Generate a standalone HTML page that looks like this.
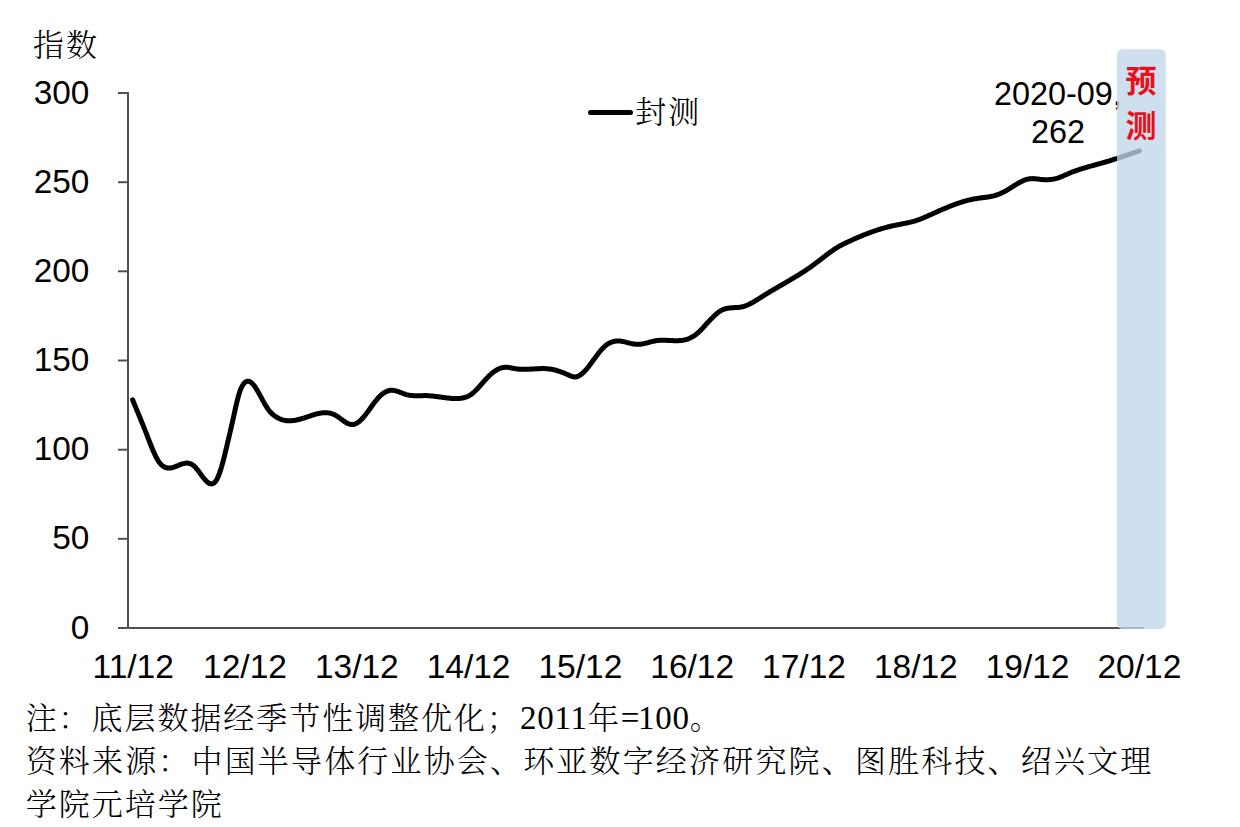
<!DOCTYPE html>
<html><head><meta charset="utf-8">
<style>
html,body{margin:0;padding:0;background:#fff;}
body{width:1240px;height:827px;overflow:hidden;position:relative;}
svg{position:absolute;left:0;top:0;}
.sans{font-family:"Liberation Sans","Noto Sans CJK SC",sans-serif;}
.cj{font-size:31px;letter-spacing:2.17px;}
.lat{font-size:33px;letter-spacing:0.8px;font-family:'Liberation Serif',serif;}
.song{font-family:"Liberation Serif","Noto Serif CJK SC",serif;font-weight:300;}
</style></head>
<body>
<svg width="1240" height="827" viewBox="0 0 1240 827">
<rect width="1240" height="827" fill="#fff"/>
<text class="song" x="33" y="55.5" font-size="31" letter-spacing="2.0" fill="#000">指数</text>
<g class="sans" font-size="33.4" fill="#000"><text x="89.4" y="103.6" text-anchor="end">300</text><text x="89.4" y="192.8" text-anchor="end">250</text><text x="89.4" y="281.9" text-anchor="end">200</text><text x="89.4" y="371.1" text-anchor="end">150</text><text x="89.4" y="460.3" text-anchor="end">100</text><text x="89.4" y="549.4" text-anchor="end">50</text><text x="89.4" y="638.6" text-anchor="end">0</text></g>
<g stroke="#505050" stroke-width="2"><line x1="118" y1="93.0" x2="128.0" y2="93.0"/><line x1="118" y1="182.2" x2="128.0" y2="182.2"/><line x1="118" y1="271.3" x2="128.0" y2="271.3"/><line x1="118" y1="360.5" x2="128.0" y2="360.5"/><line x1="118" y1="449.7" x2="128.0" y2="449.7"/><line x1="118" y1="538.8" x2="128.0" y2="538.8"/><line x1="118" y1="628.0" x2="128.0" y2="628.0"/>
<line x1="128.0" y1="92.0" x2="128.0" y2="629.0"/>
<line x1="118" y1="628.0" x2="1144.0" y2="628.0"/>
</g>
<g class="sans" font-size="33.5" fill="#000"><text x="133.2" y="678" text-anchor="middle">11/12</text><text x="245.0" y="678" text-anchor="middle">12/12</text><text x="356.8" y="678" text-anchor="middle">13/12</text><text x="468.6" y="678" text-anchor="middle">14/12</text><text x="580.4" y="678" text-anchor="middle">15/12</text><text x="692.2" y="678" text-anchor="middle">16/12</text><text x="804.0" y="678" text-anchor="middle">17/12</text><text x="915.8" y="678" text-anchor="middle">18/12</text><text x="1027.6" y="678" text-anchor="middle">19/12</text><text x="1139.4" y="678" text-anchor="middle">20/12</text></g>
<line x1="590.5" y1="112.6" x2="630.5" y2="112.6" stroke="#000" stroke-width="5" stroke-linecap="round"/>
<text class="song" x="635.3" y="122.8" font-size="31" letter-spacing="2.0" fill="#000">封测</text>
<path d="M132.6,399.8 L133.6,402.2 L134.6,404.7 L135.6,407.1 L136.6,409.5 L137.6,411.9 L138.6,414.4 L139.6,416.8 L140.6,419.2 L141.6,421.7 L142.6,424.1 L143.6,426.6 L144.6,429.1 L145.6,431.6 L146.6,434.2 L147.6,436.8 L148.6,439.4 L149.6,442.0 L150.6,444.5 L151.6,447.0 L152.6,449.5 L153.6,451.8 L154.6,454.0 L155.6,456.1 L156.6,458.0 L157.6,459.8 L158.6,461.4 L159.6,462.8 L160.6,464.0 L161.6,465.0 L162.6,465.9 L163.6,466.6 L164.6,467.1 L165.6,467.5 L166.6,467.8 L167.6,468.0 L168.6,468.1 L169.6,468.1 L170.6,468.0 L171.6,467.8 L172.6,467.6 L173.6,467.3 L174.6,466.9 L175.6,466.5 L176.6,466.2 L177.6,465.7 L178.6,465.3 L179.6,464.9 L180.6,464.5 L181.6,464.2 L182.6,463.8 L183.6,463.6 L184.6,463.4 L185.6,463.2 L186.6,463.1 L187.6,463.1 L188.6,463.3 L189.6,463.5 L190.6,463.8 L191.6,464.3 L192.6,464.9 L193.6,465.7 L194.6,466.6 L195.6,467.6 L196.6,468.8 L197.6,470.0 L198.6,471.3 L199.6,472.6 L200.6,474.0 L201.6,475.4 L202.6,476.7 L203.6,478.0 L204.6,479.2 L205.6,480.3 L206.6,481.4 L207.6,482.2 L208.6,483.0 L209.6,483.5 L210.6,483.8 L211.6,483.9 L212.6,483.7 L213.6,483.3 L214.6,482.5 L215.6,481.3 L216.6,479.8 L217.6,477.9 L218.6,475.6 L219.6,472.9 L220.6,469.9 L221.6,466.6 L222.6,463.0 L223.6,459.3 L224.6,455.3 L225.6,451.2 L226.6,447.1 L227.6,442.8 L228.6,438.6 L229.6,434.3 L230.6,430.0 L231.6,425.6 L232.6,421.2 L233.6,416.7 L234.6,412.1 L235.6,407.6 L236.6,403.3 L237.6,399.2 L238.6,395.5 L239.6,392.2 L240.6,389.4 L241.6,387.2 L242.6,385.3 L243.6,383.8 L244.6,382.7 L245.6,381.9 L246.6,381.4 L247.6,381.2 L248.6,381.2 L249.6,381.6 L250.6,382.1 L251.6,382.9 L252.6,383.8 L253.6,385.0 L254.6,386.3 L255.6,387.7 L256.6,389.3 L257.6,391.0 L258.6,392.7 L259.6,394.5 L260.6,396.4 L261.6,398.2 L262.6,400.1 L263.6,401.9 L264.6,403.7 L265.6,405.4 L266.6,407.0 L267.6,408.5 L268.6,409.9 L269.6,411.2 L270.6,412.3 L271.6,413.4 L272.6,414.3 L273.6,415.1 L274.6,415.9 L275.6,416.6 L276.6,417.2 L277.6,417.8 L278.6,418.3 L279.6,418.8 L280.6,419.2 L281.6,419.6 L282.6,419.9 L283.6,420.2 L284.6,420.4 L285.6,420.5 L286.6,420.7 L287.6,420.8 L288.6,420.8 L289.6,420.8 L290.6,420.8 L291.6,420.7 L292.6,420.6 L293.6,420.5 L294.6,420.4 L295.6,420.2 L296.6,420.0 L297.6,419.8 L298.6,419.5 L299.6,419.3 L300.6,419.0 L301.6,418.7 L302.6,418.4 L303.6,418.1 L304.6,417.8 L305.6,417.5 L306.6,417.1 L307.6,416.8 L308.6,416.4 L309.6,416.1 L310.6,415.8 L311.6,415.4 L312.6,415.1 L313.6,414.8 L314.6,414.5 L315.6,414.2 L316.6,413.9 L317.6,413.7 L318.6,413.5 L319.6,413.3 L320.6,413.1 L321.6,412.9 L322.6,412.8 L323.6,412.7 L324.6,412.7 L325.6,412.7 L326.6,412.7 L327.6,412.8 L328.6,412.9 L329.6,413.1 L330.6,413.3 L331.6,413.6 L332.6,414.0 L333.6,414.4 L334.6,414.8 L335.6,415.3 L336.6,415.9 L337.6,416.6 L338.6,417.3 L339.6,418.0 L340.6,418.7 L341.6,419.5 L342.6,420.2 L343.6,420.9 L344.6,421.6 L345.6,422.3 L346.6,422.9 L347.6,423.4 L348.6,423.8 L349.6,424.2 L350.6,424.4 L351.6,424.6 L352.6,424.6 L353.6,424.5 L354.6,424.2 L355.6,423.8 L356.6,423.3 L357.6,422.7 L358.6,422.0 L359.6,421.2 L360.6,420.3 L361.6,419.3 L362.6,418.2 L363.6,417.1 L364.6,415.9 L365.6,414.6 L366.6,413.3 L367.6,412.0 L368.6,410.6 L369.6,409.2 L370.6,407.8 L371.6,406.4 L372.6,405.0 L373.6,403.6 L374.6,402.3 L375.6,401.0 L376.6,399.8 L377.6,398.6 L378.6,397.5 L379.6,396.5 L380.6,395.5 L381.6,394.6 L382.6,393.8 L383.6,393.1 L384.6,392.4 L385.6,391.9 L386.6,391.4 L387.6,391.0 L388.6,390.7 L389.6,390.5 L390.6,390.3 L391.6,390.3 L392.6,390.3 L393.6,390.4 L394.6,390.6 L395.6,390.8 L396.6,391.1 L397.6,391.4 L398.6,391.8 L399.6,392.2 L400.6,392.5 L401.6,392.9 L402.6,393.3 L403.6,393.7 L404.6,394.0 L405.6,394.4 L406.6,394.7 L407.6,394.9 L408.6,395.1 L409.6,395.3 L410.6,395.4 L411.6,395.5 L412.6,395.6 L413.6,395.7 L414.6,395.7 L415.6,395.8 L416.6,395.8 L417.6,395.8 L418.6,395.7 L419.6,395.7 L420.6,395.7 L421.6,395.7 L422.6,395.7 L423.6,395.6 L424.6,395.6 L425.6,395.6 L426.6,395.6 L427.6,395.7 L428.6,395.7 L429.6,395.8 L430.6,395.9 L431.6,396.0 L432.6,396.1 L433.6,396.2 L434.6,396.3 L435.6,396.4 L436.6,396.5 L437.6,396.7 L438.6,396.8 L439.6,397.0 L440.6,397.1 L441.6,397.2 L442.6,397.4 L443.6,397.5 L444.6,397.6 L445.6,397.8 L446.6,397.9 L447.6,398.0 L448.6,398.1 L449.6,398.2 L450.6,398.3 L451.6,398.4 L452.6,398.4 L453.6,398.5 L454.6,398.5 L455.6,398.5 L456.6,398.5 L457.6,398.5 L458.6,398.4 L459.6,398.4 L460.6,398.3 L461.6,398.1 L462.6,398.0 L463.6,397.8 L464.6,397.5 L465.6,397.2 L466.6,396.9 L467.6,396.5 L468.6,396.0 L469.6,395.4 L470.6,394.8 L471.6,394.1 L472.6,393.4 L473.6,392.5 L474.6,391.6 L475.6,390.6 L476.6,389.6 L477.6,388.6 L478.6,387.5 L479.6,386.3 L480.6,385.2 L481.6,384.0 L482.6,382.9 L483.6,381.7 L484.6,380.6 L485.6,379.5 L486.6,378.4 L487.6,377.4 L488.6,376.3 L489.6,375.4 L490.6,374.5 L491.6,373.6 L492.6,372.8 L493.6,372.0 L494.6,371.3 L495.6,370.6 L496.6,370.0 L497.6,369.4 L498.6,369.0 L499.6,368.5 L500.6,368.1 L501.6,367.8 L502.6,367.6 L503.6,367.4 L504.6,367.3 L505.6,367.2 L506.6,367.2 L507.6,367.3 L508.6,367.4 L509.6,367.6 L510.6,367.8 L511.6,368.0 L512.6,368.2 L513.6,368.4 L514.6,368.6 L515.6,368.7 L516.6,368.9 L517.6,369.0 L518.6,369.1 L519.6,369.2 L520.6,369.3 L521.6,369.3 L522.6,369.3 L523.6,369.3 L524.6,369.3 L525.6,369.3 L526.6,369.3 L527.6,369.3 L528.6,369.2 L529.6,369.2 L530.6,369.1 L531.6,369.1 L532.6,369.0 L533.6,369.0 L534.6,368.9 L535.6,368.8 L536.6,368.8 L537.6,368.7 L538.6,368.7 L539.6,368.7 L540.6,368.6 L541.6,368.6 L542.6,368.6 L543.6,368.6 L544.6,368.6 L545.6,368.7 L546.6,368.7 L547.6,368.8 L548.6,368.9 L549.6,369.0 L550.6,369.1 L551.6,369.3 L552.6,369.5 L553.6,369.7 L554.6,369.9 L555.6,370.2 L556.6,370.5 L557.6,370.8 L558.6,371.1 L559.6,371.4 L560.6,371.8 L561.6,372.1 L562.6,372.5 L563.6,372.9 L564.6,373.3 L565.6,373.8 L566.6,374.2 L567.6,374.6 L568.6,375.1 L569.6,375.5 L570.6,375.9 L571.6,376.3 L572.6,376.6 L573.6,376.8 L574.6,377.0 L575.6,376.9 L576.6,376.8 L577.6,376.5 L578.6,376.0 L579.6,375.5 L580.6,374.8 L581.6,374.1 L582.6,373.2 L583.6,372.3 L584.6,371.3 L585.6,370.2 L586.6,369.0 L587.6,367.8 L588.6,366.6 L589.6,365.3 L590.6,363.9 L591.6,362.6 L592.6,361.2 L593.6,359.8 L594.6,358.5 L595.6,357.1 L596.6,355.7 L597.6,354.4 L598.6,353.1 L599.6,351.9 L600.6,350.7 L601.6,349.5 L602.6,348.4 L603.6,347.4 L604.6,346.5 L605.6,345.6 L606.6,344.8 L607.6,344.1 L608.6,343.5 L609.6,343.0 L610.6,342.5 L611.6,342.1 L612.6,341.8 L613.6,341.5 L614.6,341.3 L615.6,341.1 L616.6,341.0 L617.6,341.0 L618.6,341.0 L619.6,341.0 L620.6,341.1 L621.6,341.3 L622.6,341.4 L623.6,341.6 L624.6,341.9 L625.6,342.1 L626.6,342.4 L627.6,342.6 L628.6,342.9 L629.6,343.1 L630.6,343.4 L631.6,343.6 L632.6,343.8 L633.6,344.0 L634.6,344.1 L635.6,344.3 L636.6,344.3 L637.6,344.3 L638.6,344.3 L639.6,344.3 L640.6,344.2 L641.6,344.0 L642.6,343.9 L643.6,343.7 L644.6,343.4 L645.6,343.2 L646.6,343.0 L647.6,342.7 L648.6,342.5 L649.6,342.2 L650.6,341.9 L651.6,341.7 L652.6,341.4 L653.6,341.2 L654.6,341.0 L655.6,340.8 L656.6,340.6 L657.6,340.5 L658.6,340.4 L659.6,340.3 L660.6,340.3 L661.6,340.2 L662.6,340.2 L663.6,340.2 L664.6,340.2 L665.6,340.3 L666.6,340.3 L667.6,340.4 L668.6,340.4 L669.6,340.5 L670.6,340.5 L671.6,340.6 L672.6,340.6 L673.6,340.7 L674.6,340.7 L675.6,340.7 L676.6,340.7 L677.6,340.7 L678.6,340.7 L679.6,340.6 L680.6,340.5 L681.6,340.4 L682.6,340.3 L683.6,340.1 L684.6,339.9 L685.6,339.7 L686.6,339.4 L687.6,339.1 L688.6,338.7 L689.6,338.3 L690.6,337.8 L691.6,337.3 L692.6,336.8 L693.6,336.2 L694.6,335.5 L695.6,334.8 L696.6,334.0 L697.6,333.1 L698.6,332.2 L699.6,331.3 L700.6,330.3 L701.6,329.2 L702.6,328.2 L703.6,327.1 L704.6,326.0 L705.6,324.9 L706.6,323.8 L707.6,322.7 L708.6,321.6 L709.6,320.5 L710.6,319.4 L711.6,318.4 L712.6,317.4 L713.6,316.4 L714.6,315.5 L715.6,314.6 L716.6,313.7 L717.6,312.9 L718.6,312.1 L719.6,311.5 L720.6,310.8 L721.6,310.3 L722.6,309.8 L723.6,309.4 L724.6,309.0 L725.6,308.7 L726.6,308.5 L727.6,308.3 L728.6,308.1 L729.6,308.0 L730.6,307.9 L731.6,307.8 L732.6,307.7 L733.6,307.7 L734.6,307.6 L735.6,307.6 L736.6,307.5 L737.6,307.5 L738.6,307.4 L739.6,307.3 L740.6,307.1 L741.6,307.0 L742.6,306.7 L743.6,306.5 L744.6,306.2 L745.6,305.8 L746.6,305.4 L747.6,305.0 L748.6,304.6 L749.6,304.1 L750.6,303.6 L751.6,303.0 L752.6,302.5 L753.6,301.9 L754.6,301.3 L755.6,300.7 L756.6,300.1 L757.6,299.5 L758.6,298.8 L759.6,298.2 L760.6,297.6 L761.6,296.9 L762.6,296.3 L763.6,295.7 L764.6,295.0 L765.6,294.4 L766.6,293.8 L767.6,293.2 L768.6,292.6 L769.6,292.0 L770.6,291.4 L771.6,290.8 L772.6,290.2 L773.6,289.6 L774.6,289.0 L775.6,288.4 L776.6,287.9 L777.6,287.3 L778.6,286.7 L779.6,286.1 L780.6,285.5 L781.6,285.0 L782.6,284.4 L783.6,283.8 L784.6,283.2 L785.6,282.7 L786.6,282.1 L787.6,281.5 L788.6,280.9 L789.6,280.3 L790.6,279.7 L791.6,279.1 L792.6,278.5 L793.6,277.9 L794.6,277.3 L795.6,276.7 L796.6,276.1 L797.6,275.5 L798.6,274.9 L799.6,274.3 L800.6,273.6 L801.6,273.0 L802.6,272.4 L803.6,271.7 L804.6,271.1 L805.6,270.4 L806.6,269.7 L807.6,269.0 L808.6,268.4 L809.6,267.7 L810.6,267.0 L811.6,266.2 L812.6,265.5 L813.6,264.8 L814.6,264.1 L815.6,263.3 L816.6,262.5 L817.6,261.8 L818.6,261.0 L819.6,260.2 L820.6,259.5 L821.6,258.7 L822.6,257.9 L823.6,257.2 L824.6,256.4 L825.6,255.6 L826.6,254.9 L827.6,254.1 L828.6,253.4 L829.6,252.6 L830.6,251.9 L831.6,251.2 L832.6,250.5 L833.6,249.8 L834.6,249.1 L835.6,248.5 L836.6,247.9 L837.6,247.2 L838.6,246.6 L839.6,246.1 L840.6,245.5 L841.6,245.0 L842.6,244.5 L843.6,244.0 L844.6,243.5 L845.6,243.0 L846.6,242.5 L847.6,242.0 L848.6,241.6 L849.6,241.1 L850.6,240.7 L851.6,240.2 L852.6,239.7 L853.6,239.3 L854.6,238.8 L855.6,238.4 L856.6,238.0 L857.6,237.5 L858.6,237.1 L859.6,236.7 L860.6,236.3 L861.6,235.9 L862.6,235.4 L863.6,235.0 L864.6,234.6 L865.6,234.3 L866.6,233.9 L867.6,233.5 L868.6,233.1 L869.6,232.7 L870.6,232.4 L871.6,232.0 L872.6,231.6 L873.6,231.3 L874.6,230.9 L875.6,230.6 L876.6,230.3 L877.6,229.9 L878.6,229.6 L879.6,229.3 L880.6,229.0 L881.6,228.7 L882.6,228.4 L883.6,228.1 L884.6,227.8 L885.6,227.6 L886.6,227.3 L887.6,227.0 L888.6,226.8 L889.6,226.5 L890.6,226.3 L891.6,226.0 L892.6,225.8 L893.6,225.6 L894.6,225.4 L895.6,225.2 L896.6,225.0 L897.6,224.8 L898.6,224.6 L899.6,224.4 L900.6,224.2 L901.6,224.0 L902.6,223.8 L903.6,223.6 L904.6,223.4 L905.6,223.2 L906.6,223.0 L907.6,222.8 L908.6,222.6 L909.6,222.4 L910.6,222.1 L911.6,221.9 L912.6,221.6 L913.6,221.3 L914.6,221.1 L915.6,220.8 L916.6,220.4 L917.6,220.1 L918.6,219.7 L919.6,219.4 L920.6,219.0 L921.6,218.6 L922.6,218.2 L923.6,217.8 L924.6,217.3 L925.6,216.9 L926.6,216.5 L927.6,216.0 L928.6,215.6 L929.6,215.1 L930.6,214.7 L931.6,214.2 L932.6,213.8 L933.6,213.3 L934.6,212.9 L935.6,212.4 L936.6,212.0 L937.6,211.5 L938.6,211.1 L939.6,210.6 L940.6,210.2 L941.6,209.8 L942.6,209.3 L943.6,208.9 L944.6,208.5 L945.6,208.1 L946.6,207.7 L947.6,207.2 L948.6,206.8 L949.6,206.4 L950.6,206.0 L951.6,205.7 L952.6,205.3 L953.6,204.9 L954.6,204.5 L955.6,204.2 L956.6,203.8 L957.6,203.4 L958.6,203.1 L959.6,202.8 L960.6,202.4 L961.6,202.1 L962.6,201.8 L963.6,201.5 L964.6,201.2 L965.6,200.9 L966.6,200.7 L967.6,200.4 L968.6,200.1 L969.6,199.9 L970.6,199.7 L971.6,199.4 L972.6,199.2 L973.6,199.0 L974.6,198.8 L975.6,198.7 L976.6,198.5 L977.6,198.4 L978.6,198.2 L979.6,198.1 L980.6,198.0 L981.6,197.8 L982.6,197.7 L983.6,197.6 L984.6,197.5 L985.6,197.3 L986.6,197.2 L987.6,197.0 L988.6,196.9 L989.6,196.7 L990.6,196.5 L991.6,196.3 L992.6,196.1 L993.6,195.9 L994.6,195.6 L995.6,195.3 L996.6,195.0 L997.6,194.7 L998.6,194.3 L999.6,193.9 L1000.6,193.5 L1001.6,193.0 L1002.6,192.5 L1003.6,192.0 L1004.6,191.5 L1005.6,191.0 L1006.6,190.4 L1007.6,189.8 L1008.6,189.2 L1009.6,188.6 L1010.6,188.0 L1011.6,187.3 L1012.6,186.7 L1013.6,186.1 L1014.6,185.4 L1015.6,184.8 L1016.6,184.2 L1017.6,183.6 L1018.6,183.0 L1019.6,182.4 L1020.6,181.9 L1021.6,181.4 L1022.6,180.9 L1023.6,180.5 L1024.6,180.1 L1025.6,179.7 L1026.6,179.4 L1027.6,179.2 L1028.6,179.0 L1029.6,178.8 L1030.6,178.7 L1031.6,178.7 L1032.6,178.6 L1033.6,178.7 L1034.6,178.7 L1035.6,178.8 L1036.6,178.9 L1037.6,179.0 L1038.6,179.1 L1039.6,179.3 L1040.6,179.4 L1041.6,179.5 L1042.6,179.6 L1043.6,179.7 L1044.6,179.7 L1045.6,179.7 L1046.6,179.7 L1047.6,179.7 L1048.6,179.7 L1049.6,179.6 L1050.6,179.5 L1051.6,179.4 L1052.6,179.2 L1053.6,179.1 L1054.6,178.9 L1055.6,178.6 L1056.6,178.4 L1057.6,178.1 L1058.6,177.8 L1059.6,177.4 L1060.6,177.0 L1061.6,176.6 L1062.6,176.2 L1063.6,175.7 L1064.6,175.3 L1065.6,174.9 L1066.6,174.4 L1067.6,174.0 L1068.6,173.5 L1069.6,173.1 L1070.6,172.7 L1071.6,172.3 L1072.6,171.9 L1073.6,171.5 L1074.6,171.2 L1075.6,170.8 L1076.6,170.5 L1077.6,170.1 L1078.6,169.8 L1079.6,169.4 L1080.6,169.1 L1081.6,168.8 L1082.6,168.5 L1083.6,168.2 L1084.6,167.9 L1085.6,167.6 L1086.6,167.3 L1087.6,167.0 L1088.6,166.7 L1089.6,166.4 L1090.6,166.1 L1091.6,165.9 L1092.6,165.6 L1093.6,165.3 L1094.6,165.0 L1095.6,164.8 L1096.6,164.5 L1097.6,164.2 L1098.6,163.9 L1099.6,163.7 L1100.6,163.4 L1101.6,163.1 L1102.6,162.8 L1103.6,162.5 L1104.6,162.3 L1105.6,162.0 L1106.6,161.7 L1107.6,161.4 L1108.6,161.1 L1109.6,160.8 L1110.6,160.5 L1111.6,160.2 L1112.6,159.8 L1113.6,159.5 L1114.6,159.2 L1115.6,158.9 L1116.6,158.6 L1117.6,158.3 L1118.6,157.9 L1119.6,157.6 L1120.6,157.3 L1121.6,156.9 L1122.6,156.6 L1123.6,156.3 L1124.6,155.9 L1125.6,155.6 L1126.6,155.3 L1127.6,154.9 L1128.6,154.6 L1129.6,154.2 L1130.6,153.9 L1131.6,153.5 L1132.6,153.2 L1133.6,152.9 L1134.6,152.5 L1135.6,152.2 L1136.6,151.8 L1137.6,151.5 L1138.6,151.1 L1139.4,150.9" fill="none" stroke="#000" stroke-width="5" stroke-linecap="round" stroke-linejoin="round"/>
<g class="sans" font-size="32.4" fill="#000">
<text x="994" y="104.6">2020-09,</text>
<text x="1031" y="143.4">262</text>
</g>
<rect x="1117" y="49.3" width="48.7" height="579.8" rx="5.5" fill="#C0D6EC" fill-opacity="0.78"/>
<g class="sans" font-size="31" font-weight="700" fill="#E8101A" text-anchor="middle">
<text x="1141" y="92">预</text>
<text x="1141" y="136.5">测</text>
</g>
<g class="song cj" fill="#000">
<text x="25.65" y="728.8" letter-spacing="1.95">注：底层数据经季节性调整优化；<tspan class="lat">2011</tspan>年<tspan class="lat" style="letter-spacing:-1.5px">=</tspan><tspan class="lat">100</tspan>。</text>
<text x="25.65" y="771.8">资料来源：中国半导体行业协会、环亚数字经济研究院、图胜科技、绍兴文理</text>
<text x="25.65" y="814.8" letter-spacing="2.0">学院元培学院</text>
</g>
</svg>
</body></html>
